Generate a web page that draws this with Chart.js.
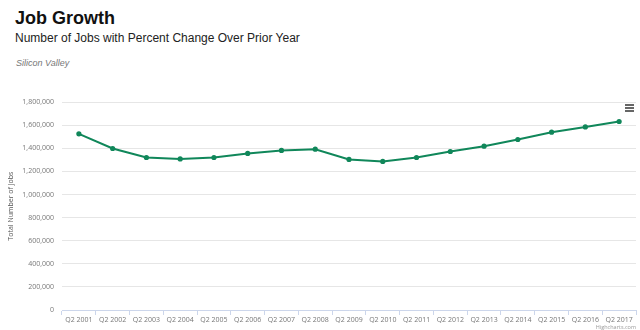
<!DOCTYPE html>
<html>
<head>
<meta charset="utf-8">
<script src="https://cdn.jsdelivr.net/npm/chart.js@4"></script>
<style>
  body { margin: 0; width: 640px; height: 330px; background: #fff; overflow: hidden; position: relative; font-family: "Liberation Sans", Arial, sans-serif; }
  #title { position: absolute; left: 15px; top: 8px; font-size: 18px; font-weight: bold; color: #111; }
  #subtitle { position: absolute; left: 15px; top: 31px; font-size: 12px; color: #222; }
  #region { position: absolute; left: 16px; top: 58px; font-size: 9px; font-style: italic; color: #777; }
  #menu { position: absolute; left: 625px; top: 104px; width: 9px; }
  #menu div { height: 1.5px; background: #666; margin-bottom: 1.5px; }
  #credit { position: absolute; right: 4px; top: 323px; font-size: 5.5px; color: #999; font-family: "Open Sans", sans-serif; }
  #wrap { position: absolute; left: 0; top: 90px; width: 640px; height: 240px; }
</style>
</head>
<body>
<div id="title">Job Growth</div>
<div id="subtitle">Number of Jobs with Percent Change Over Prior Year</div>
<div id="region">Silicon Valley</div>
<div id="wrap"><canvas id="jobsgraph"></canvas></div>
<div id="menu"><div></div><div></div><div></div></div>
<div id="credit">Highcharts.com</div>
<script>
var quarters = ['Q2 2001', 'Q2 2002', 'Q2 2003', 'Q2 2004', 'Q2 2005', 'Q2 2006', 'Q2 2007', 'Q2 2008', 'Q2 2009',
                'Q2 2010', 'Q2 2011', 'Q2 2012', 'Q2 2013', 'Q2 2014', 'Q2 2015', 'Q2 2016', 'Q2 2017'];
var totalJobs = [1526000, 1399000, 1321000, 1309000, 1321000, 1356000, 1382000, 1393000, 1304000,
                 1287000, 1321000, 1373000, 1419000, 1477000, 1540000, 1586000, 1633000];
var yTicks = [0, 200000, 400000, 600000, 800000, 1000000, 1200000, 1400000, 1600000, 1800000];

var graph = document.getElementById('jobsgraph');
var lineColor = '#10875a';

var jobsPlot = new Chart(graph, {
    type: 'line',
    data: {
        labels: quarters,
        datasets: [{
            label: 'Total Number of Jobs',
            data: totalJobs,
            borderColor: lineColor,
            backgroundColor: lineColor,
            borderWidth: 2,
            pointRadius: 2.6,
            pointBackgroundColor: lineColor,
            pointBorderWidth: 0,
            tension: 0
        }]
    },
    options: {
        responsive: true,
        maintainAspectRatio: false,
        animation: false,
        layout: { padding: { left: 0, right: 4, top: 12, bottom: 0 } },
        plugins: { legend: { display: false }, tooltip: { enabled: false } },
        scales: {
            x: {
                offset: true,
                grid: { offset: true, drawOnChartArea: false, drawTicks: true, tickLength: 5, color: '#ccd6eb' },
                border: { color: '#ccd6eb' },
                ticks: { padding: 1, color: '#777', font: { family: 'Open Sans', size: 7 }, maxRotation: 0, autoSkip: false },
                afterFit: function(scale) { scale.height = 20; }
            },
            y: {
                min: 0,
                max: 1800000,
                afterBuildTicks: function(scale) { scale.ticks = yTicks.map(function(v) { return { value: v }; }); },
                grid: { color: '#e6e6e6', drawTicks: false },
                border: { display: false },
                ticks: {
                    padding: 8, color: '#777', font: { family: 'Open Sans', size: 7 },
                    callback: function(v) { return v.toLocaleString('en-US'); }
                },
                title: { display: true, text: 'Total Number of Jobs', color: '#555', font: { family: 'Open Sans', size: 7 }, padding: { top: 7, bottom: 0 } },
                afterFit: function(scale) { scale.width = 62; }
            }
        }
    }
});
</script>
</body>
</html>
